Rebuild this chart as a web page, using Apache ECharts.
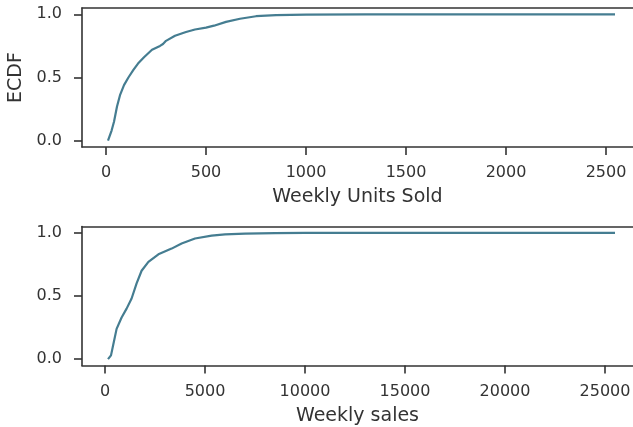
<!DOCTYPE html>
<html>
<head>
<meta charset="utf-8">
<script src="https://cdn.jsdelivr.net/npm/echarts@6/dist/echarts.min.js"></script>
<style>
html,body{margin:0;padding:0;background:#fff;}
#chart{width:633px;height:427px;}
</style>
</head>
<body>
<div id="chart"></div>
<script>
// ---- data ----
const unitsSold = [10, 28, 40, 55, 70, 90, 112, 137, 160, 190, 230, 270, 285, 300, 345, 400, 445, 500, 540, 600, 670, 750, 850, 1000, 1300, 1700, 2545];
const unitsEcdf = [0.0, 0.08, 0.15, 0.27, 0.36, 0.44, 0.50, 0.56, 0.61, 0.66, 0.72, 0.75, 0.765, 0.79, 0.83, 0.86, 0.88, 0.895, 0.91, 0.94, 0.965, 0.985, 0.993, 0.997, 0.999, 1.0, 1.0];

const weeklySales = [150, 300, 420, 580, 830, 1080, 1330, 1580, 1830, 2170, 2670, 3330, 3830, 4500, 5330, 6000, 7000, 8500, 10000, 14000, 25500];
const salesEcdf = [0.0, 0.03, 0.12, 0.24, 0.33, 0.40, 0.48, 0.60, 0.70, 0.77, 0.83, 0.875, 0.915, 0.955, 0.978, 0.988, 0.994, 0.997, 0.999, 1.0, 1.0];

const unitsTicks = [0, 500, 1000, 1500, 2000, 2500];
const salesTicks = [0, 5000, 10000, 15000, 20000, 25000];
const ecdfTicks = [0, 0.5, 1.0];

const unitsLabel = 'Weekly Units Sold';
const salesLabel = 'Weekly sales';
const ecdfLabel = 'ECDF';

// ---- styling ----
const FONT = 'DejaVu Sans';
const INK = '#333333';
const SPINE = '#333333';
const LINE = '#457d91';

function xAxisCfg(gridIndex, min, max, ticks, name) {
  return {
    type: 'value', gridIndex, min, max, position: 'bottom',
    name, nameLocation: 'middle', nameGap: 41,
    nameTextStyle: { fontFamily: FONT, fontSize: 19, color: INK },
    splitLine: { show: false },
    axisLine: { show: true, onZero: false, lineStyle: { color: SPINE, width: 1.6 } },
    axisTick: { show: true, customValues: ticks, length: 8, inside: false, lineStyle: { color: SPINE, width: 1.6 } },
    axisLabel: { customValues: ticks, margin: 18, fontFamily: FONT, fontSize: 16, color: INK, formatter: v => String(v) }
  };
}
function topSpine(gridIndex, min, max) {
  return {
    type: 'value', gridIndex, min, max, position: 'top',
    splitLine: { show: false },
    axisLine: { show: true, onZero: false, lineStyle: { color: SPINE, width: 1.6 } },
    axisTick: { show: false }, axisLabel: { show: false }
  };
}
function yAxisCfg(gridIndex, name) {
  return {
    type: 'value', gridIndex, min: -0.05, max: 1.05,
    name: name, nameLocation: 'middle', nameGap: 55,
    nameTextStyle: { fontFamily: FONT, fontSize: 19, color: INK },
    splitLine: { show: false },
    axisLine: { show: true, onZero: false, lineStyle: { color: SPINE, width: 1.6 } },
    axisTick: { show: true, customValues: ecdfTicks, length: 8, lineStyle: { color: SPINE, width: 1.6 } },
    axisLabel: { customValues: ecdfTicks, margin: 20, fontFamily: FONT, fontSize: 16, color: INK, formatter: v => v.toFixed(1) }
  };
}

const chart = echarts.init(document.getElementById('chart'), null, { renderer: 'canvas' });
chart.setOption({
  animation: false,
  backgroundColor: '#ffffff',
  grid: [
    { left: 82, right: 0, top: 8, height: 139, containLabel: false, outerBoundsMode: 'none' },
    { left: 82, right: 0, top: 226.5, height: 139, containLabel: false, outerBoundsMode: 'none' }
  ],
  xAxis: [
    xAxisCfg(0, -120, 2635, unitsTicks, unitsLabel),
    xAxisCfg(1, -1150, 26400, salesTicks, salesLabel),
    topSpine(0, -120, 2635),
    topSpine(1, -1150, 26400)
  ],
  yAxis: [
    yAxisCfg(0, ecdfLabel),
    yAxisCfg(1, '')
  ],
  series: [
    {
      type: 'line', xAxisIndex: 0, yAxisIndex: 0, showSymbol: false, silent: true,
      data: unitsSold.map((x, i) => [x, unitsEcdf[i]]),
      lineStyle: { color: LINE, width: 2.2 }
    },
    {
      type: 'line', xAxisIndex: 1, yAxisIndex: 1, showSymbol: false, silent: true,
      data: weeklySales.map((x, i) => [x, salesEcdf[i]]),
      lineStyle: { color: LINE, width: 2.2 }
    }
  ]
});
</script>
</body>
</html>
